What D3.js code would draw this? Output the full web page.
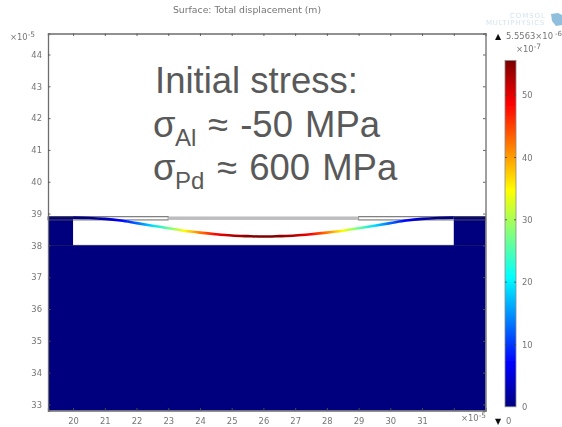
<!DOCTYPE html>
<html>
<head>
<meta charset="utf-8">
<script src="https://cdn.jsdelivr.net/npm/d3@7"></script>
<style>
html, body { margin: 0; padding: 0; background: #fff; overflow: hidden; }
svg { display: block; }
.plot text { font-family: "DejaVu Sans", sans-serif; fill: #757575; }
.note { font-family: "Liberation Sans", Arial, sans-serif; fill: #595959; }
</style>
</head>
<body>
<svg id="chart" width="562" height="427"></svg>
<script>
// values, geometry in units of 1e-5 m
const xTicks = [20, 21, 22, 23, 24, 25, 26, 27, 28, 29, 30, 31, 32];
const yTicks = [33, 34, 35, 36, 37, 38, 39, 40, 41, 42, 43, 44];
const barTicks = [0, 10, 20, 30, 40, 50];
const xDomain = [19.21, 33.0];
const yDomain = [32.81, 44.66];

const cavityX = [20, 32];
const cavityY = [38, 38.92];
const pdGapX = [23, 29];
const stripY = [38.8, 38.9];

// deformed membrane: position and total displacement (1e-7 m)
const membraneX = [20, 20.5, 21, 21.5, 22, 22.5, 23, 23.5, 24, 24.5, 25, 25.5, 26,
    26.5, 27, 27.5, 28, 28.5, 29, 29.5, 30, 30.5, 31, 31.5, 32];
const membraneY = [38.874, 38.862, 38.833, 38.78, 38.70, 38.62, 38.54, 38.46, 38.40, 38.35, 38.31, 38.29, 38.277,
    38.29, 38.31, 38.35, 38.40, 38.46, 38.54, 38.62, 38.70, 38.78, 38.833, 38.862, 38.874];
const membraneDisp = [0, 0.5, 2.5, 7, 12.5, 19, 26.5, 34.7, 42, 48.6, 52.5, 54.8, 55.56,
    54.8, 52.5, 48.6, 42, 34.7, 26.5, 19, 12.5, 7, 2.5, 0.5, 0];

const barMax = 55.56;
const jetValues = [0, 7, 20.8, 34.7, 48.6, 55.56];
const jetColors = ["#00007f", "#0000ff", "#00ffff", "#ffff00", "#ff0000", "#7a0000"];

const x = d3.scaleLinear().domain(xDomain).range([48, 485.5]);
const y = d3.scaleLinear().domain(yDomain).range([410.5, 33.5]);
const bar = d3.scaleLinear().domain([0, barMax]).range([406.8, 60.5]);
const jet = d3.scaleLinear().domain(jetValues).range(jetColors);

const svg = d3.select("#chart");
const defs = svg.append("defs");

defs.append("filter").attr("id", "soft")
    .attr("x", 0).attr("y", 0)
    .attr("filterUnits", "userSpaceOnUse")
    .attr("width", 562).attr("height", 427)
  .append("feGaussianBlur").attr("stdDeviation", 0.6);

// gradient along the membrane, one stop per read point
const x0 = x(membraneX[0]), x1 = x(membraneX[membraneX.length - 1]);
defs.append("linearGradient").attr("id", "membraneGrad")
    .attr("gradientUnits", "userSpaceOnUse")
    .attr("x1", x0).attr("x2", x1).attr("y1", 0).attr("y2", 0)
  .selectAll("stop").data(membraneX).join("stop")
    .attr("offset", d => (x(d) - x0) / (x1 - x0))
    .attr("stop-color", (d, i) => jet(membraneDisp[i]));

// colour bar gradient
const barGrad = defs.append("linearGradient").attr("id", "barGrad")
    .attr("x1", 0).attr("x2", 0).attr("y1", 1).attr("y2", 0);
barGrad.selectAll("stop").data(jetValues).join("stop")
    .attr("offset", d => d / barMax)
    .attr("stop-color", d => jet(d));

const plot = svg.append("g").attr("class", "plot").attr("filter", "url(#soft)");

plot.append("text").attr("x", 247).attr("y", 13)
    .attr("text-anchor", "middle").attr("font-size", 9.3)
    .text("Surface: Total displacement (m)");

// substrate
plot.append("rect")
    .attr("x", x(xDomain[0])).attr("width", x(xDomain[1]) - x(xDomain[0]))
    .attr("y", y(cavityY[1])).attr("height", y(yDomain[0]) - y(cavityY[1]))
    .attr("fill", "#00007f");
plot.append("rect")
    .attr("x", x(cavityX[0])).attr("width", x(cavityX[1]) - x(cavityX[0]))
    .attr("y", y(cavityY[1])).attr("height", y(cavityY[0]) - y(cavityY[1]))
    .attr("fill", "#fff");
plot.append("line")
    .attr("x1", x(xDomain[0])).attr("x2", x(xDomain[1]))
    .attr("y1", y(cavityY[0])).attr("y2", y(cavityY[0]))
    .attr("stroke", "#222260").attr("stroke-width", 0.8);

// outlined metal strips either side, grey one across the gap
[[xDomain[0], pdGapX[0]], [pdGapX[1], xDomain[1]]].forEach(function(s){
    plot.append("rect")
        .attr("x", x(s[0])).attr("width", x(s[1]) - x(s[0]))
        .attr("y", y(stripY[1])).attr("height", y(stripY[0]) - y(stripY[1]))
        .attr("fill", "none").attr("stroke", "#555").attr("stroke-width", 0.9);
});
plot.append("rect")
    .attr("x", x(pdGapX[0])).attr("width", x(pdGapX[1]) - x(pdGapX[0]))
    .attr("y", y(stripY[1])).attr("height", y(stripY[0]) - y(stripY[1]))
    .attr("fill", "#bdbdbd");

// membrane
const membraneLine = d3.line()
    .x(d => x(d))
    .y((d, i) => y(membraneY[i]))
    .curve(d3.curveCatmullRom);
plot.append("path")
    .attr("d", membraneLine(membraneX))
    .attr("fill", "none")
    .attr("stroke", "url(#membraneGrad)")
    .attr("stroke-width", 2.6);

function styleAxis(g){
    g.selectAll(".domain").attr("stroke", "#6e6e6e").attr("stroke-width", 1.3);
    g.selectAll(".tick line").attr("stroke", "#555").attr("stroke-width", 0.9);
    g.selectAll(".tick text").attr("font-family", null).attr("font-size", 8.4);
}

const labelX = d => d === 32 ? "" : d;
plot.append("g").attr("transform", "translate(0," + y.range()[0] + ")")
    .call(d3.axisBottom(x).tickValues(xTicks).tickSizeOuter(0).tickSize(-2.5).tickPadding(8).tickFormat(labelX))
    .call(styleAxis);
plot.append("g").attr("transform", "translate(0," + y.range()[1] + ")")
    .call(d3.axisTop(x).tickValues(xTicks).tickSizeOuter(0).tickSize(-2.5).tickFormat(""))
    .call(styleAxis);
plot.append("g").attr("transform", "translate(" + x.range()[0] + ",0)")
    .call(d3.axisLeft(y).tickValues(yTicks).tickSizeOuter(0).tickSize(-2.5).tickPadding(6))
    .call(styleAxis);
plot.append("g").attr("transform", "translate(" + x.range()[1] + ",0)")
    .call(d3.axisRight(y).tickValues(yTicks).tickSizeOuter(0).tickSize(-2.5).tickFormat(""))
    .call(styleAxis);

function power(px, py, text){
    const t = plot.append("text").attr("x", px).attr("y", py).attr("font-size", 8.4);
    t.append("tspan").text(text[0]);
    t.append("tspan").attr("dy", -3).attr("font-size", 7.4).text(text[1]);
}
power(10, 39.5, ["×10", "-5"]);
power(461, 421, ["×10", "-5"]);

// colour bar
plot.append("rect")
    .attr("x", 505).attr("width", 11)
    .attr("y", bar(barMax)).attr("height", bar(0) - bar(barMax))
    .attr("fill", "url(#barGrad)")
    .attr("stroke", "#8a8a8a").attr("stroke-width", 0.8);
const barAxis = plot.append("g").attr("transform", "translate(516,0)")
    .call(d3.axisRight(bar).tickValues(barTicks).tickSizeOuter(0).tickSize(0).tickPadding(6))
    .call(styleAxis);
barAxis.select(".domain").remove();
plot.selectAll(".barTick").data(barTicks.filter(d => d > 0)).join("path")
    .attr("class", "barTick")
    .attr("d", d => "M505," + bar(d) + "h2M516," + bar(d) + "h-2")
    .attr("stroke", "#444").attr("stroke-width", 0.8);

plot.append("text").attr("x", 495).attr("y", 39).attr("font-size", 8).style("fill", "#111").text("▲");
plot.append("text").attr("x", 506).attr("y", 39).attr("font-size", 8.4).text("5.5563×10");
plot.append("text").attr("x", 555).attr("y", 36).attr("font-size", 7).text("-6");
power(516, 52, ["×10", "-7"]);
plot.append("text").attr("x", 495).attr("y", 424).attr("font-size", 8).style("fill", "#111").text("▼");
plot.append("text").attr("x", 506).attr("y", 424).attr("font-size", 8.4).text("0");

// logo
plot.append("text").attr("x", 510).attr("y", 18).attr("font-size", 7)
    .style("fill", "#d3e4ef").attr("letter-spacing", 0.9).text("COMSOL");
plot.append("text").attr("x", 486).attr("y", 25).attr("font-size", 7)
    .style("fill", "#d3e4ef").attr("letter-spacing", 0.75).text("MULTIPHYSICS");
plot.append("path").attr("d", "M551,14L558,13L562,15V25L556,26L552,21Z").attr("fill", "#8fbfdc");

// annotation on top, this one is sharp in the picture
const note = svg.append("text").attr("class", "note").attr("font-size", 36.5);
note.append("tspan").attr("x", 155).attr("y", 92.7).text("Initial stress:");

function stressLine(base, name, nameX, rest, restX){
    const t = svg.append("text").attr("class", "note").attr("font-size", 36.5).attr("word-spacing", 2);
    t.append("tspan").attr("x", 153).attr("y", base).text("σ");
    t.append("tspan").attr("x", nameX).attr("y", base + 9).attr("font-size", 24).text(name);
    t.append("tspan").attr("x", restX).attr("y", base).text(rest);
}
stressLine(136.7, "Al", 175, "≈ -50 MPa", 208);
stressLine(180, "Pd", 175, "≈ 600 MPa", 217);
</script>
</body>
</html>
